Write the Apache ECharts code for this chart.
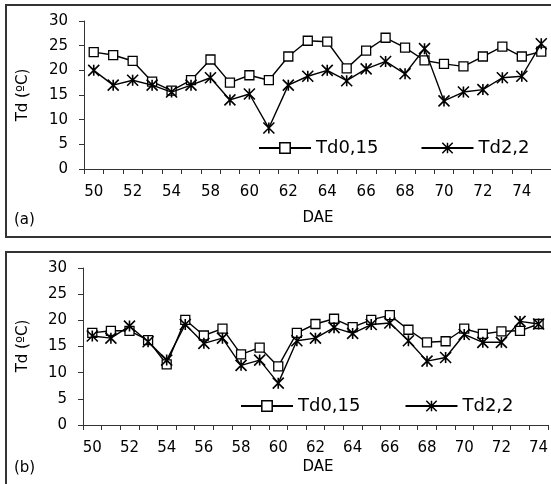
<!DOCTYPE html>
<html>
<head>
<meta charset="utf-8">
<script src="https://cdn.jsdelivr.net/npm/echarts@6/dist/echarts.min.js"></script>
<style>
html,body{margin:0;padding:0;background:#fff;}
#c{width:551px;height:484px;}
</style>
</head>
<body>
<div id="c"></div>
<script>
// Panel (a)
const catsA = ['50','51','52','53','54','55','58','59','60','61','62','63','64','65','66','67','68','69','70','71','72','73','74','75'];
const td015A = [23.7, 23.1, 21.9, 17.7, 15.9, 18.0, 22.2, 17.5, 19.0, 18.0, 22.8, 26.0, 25.8, 20.4, 24.0, 26.6, 24.6, 22.0, 21.3, 20.8, 22.8, 24.8, 22.8, 23.8];
const td22A  = [20.0, 17.0, 18.0, 17.0, 15.6, 17.0, 18.5, 14.0, 15.2, 8.3, 17.0, 18.8, 20.0, 17.9, 20.3, 21.8, 19.3, 24.4, 13.8, 15.6, 16.1, 18.5, 18.8, 25.4];
// Panel (b)
const catsB = ['50','51','52','53','54','55','56','57','58','59','60','61','62','63','64','65','66','67','68','69','70','71','72','73','74'];
const td015B = [17.6, 18.0, 18.0, 16.2, 11.6, 20.1, 17.1, 18.4, 13.5, 14.8, 11.2, 17.6, 19.3, 20.3, 18.7, 20.1, 21.0, 18.2, 15.8, 16.0, 18.4, 17.4, 17.9, 18.0, 19.3];
const td22B  = [17.0, 16.6, 18.9, 15.9, 12.4, 19.2, 15.6, 16.6, 11.4, 12.4, 8.0, 16.1, 16.6, 18.6, 17.5, 19.2, 19.5, 16.1, 12.2, 12.9, 17.3, 15.8, 15.8, 19.8, 19.3];
const yTicks = [0, 5, 10, 15, 20, 25, 30];
const seriesNames = ['Td0,15', 'Td2,2'];
const yTitle = 'Td (ºC)';
const xTitle = 'DAE';

const FONT = 'DejaVu Sans';
const starPath = 'path://M0,0L10,10M0,10L10,0M5,0L5,10';

function xAxis(gi, cats) {
  return {
    type: 'category', gridIndex: gi, data: cats, boundaryGap: true,
    axisLine: {lineStyle: {color: '#333', width: 1}},
    axisTick: {show: true, interval: 0, length: 5, lineStyle: {color: '#333'}},
    axisLabel: {interval: 1, color: '#000', fontFamily: FONT, fontSize: 15, margin: 16},
    splitLine: {show: false}
  };
}
function yAxis(gi) {
  return {
    type: 'value', gridIndex: gi, min: yTicks[0], max: yTicks[yTicks.length - 1], interval: yTicks[1] - yTicks[0],
    axisLine: {show: true, lineStyle: {color: '#333', width: 1}},
    axisTick: {show: true, length: 5, lineStyle: {color: '#333'}},
    axisLabel: {color: '#000', fontFamily: FONT, fontSize: 15, margin: 16},
    splitLine: {show: false}
  };
}
function sq(gi, data) {
  return {
    name: seriesNames[0], type: 'line', xAxisIndex: gi, yAxisIndex: gi, data: data,
    symbol: 'rect', symbolSize: 9, showAllSymbol: true,
    lineStyle: {color: '#000', width: 1.4},
    itemStyle: {color: '#fff', borderColor: '#000', borderWidth: 1.3},
    animation: false, z: 3
  };
}
function st(gi, data) {
  return {
    name: seriesNames[1], type: 'line', xAxisIndex: gi, yAxisIndex: gi, data: data,
    symbol: starPath, symbolSize: 11, showAllSymbol: true,
    lineStyle: {color: '#000', width: 1.4},
    itemStyle: {color: '#000', borderColor: '#000', borderWidth: 1.6},
    animation: false, z: 4
  };
}
function legend(left, top, gap) {
  return {
    data: seriesNames, left: left, top: top, orient: 'horizontal', padding: 0,
    itemWidth: 52, itemHeight: 13, itemGap: gap, selectedMode: false,
    itemStyle: {borderWidth: 1.5},
    textStyle: {color: '#000', fontFamily: FONT, fontSize: 18}
  };
}

const chart = echarts.init(document.getElementById('c'), null, {renderer: 'canvas'});
chart.setOption({
  animation: false,
  backgroundColor: '#fff',
  grid: [
    {left: 84, top: 21, width: 468, height: 148},
    {left: 83, top: 268, width: 472, height: 157}
  ],
  xAxis: [xAxis(0, catsA), xAxis(1, catsB)],
  yAxis: [yAxis(0), yAxis(1)],
  legend: [legend(258, 139, 42), legend(240, 397, 44)],
  series: [sq(0, td015A), st(0, td22A), sq(1, td015B), st(1, td22B)],
  graphic: [
    {type: 'rect', shape: {x: 6, y: 5, width: 600, height: 232}, style: {fill: 'none', stroke: '#333', lineWidth: 2}, silent: true},
    {type: 'rect', shape: {x: 6, y: 252, width: 600, height: 300}, style: {fill: 'none', stroke: '#333', lineWidth: 2}, silent: true},
    {type: 'text', x: 23, y: 95, rotation: Math.PI / 2, style: {text: yTitle, fontFamily: FONT, fontSize: 15, fill: '#000', align: 'center', verticalAlign: 'middle'}},
    {type: 'text', x: 23, y: 346, rotation: Math.PI / 2, style: {text: yTitle, fontFamily: FONT, fontSize: 15, fill: '#000', align: 'center', verticalAlign: 'middle'}},
    {type: 'text', x: 318, y: 218, style: {text: xTitle, fontFamily: FONT, fontSize: 15, fill: '#000', align: 'center', verticalAlign: 'middle'}},
    {type: 'text', x: 318, y: 467, style: {text: xTitle, fontFamily: FONT, fontSize: 15, fill: '#000', align: 'center', verticalAlign: 'middle'}},
    {type: 'text', x: 14, y: 220, style: {text: '(a)', fontFamily: FONT, fontSize: 15, fill: '#000', align: 'left', verticalAlign: 'middle'}},
    {type: 'text', x: 14, y: 468, style: {text: '(b)', fontFamily: FONT, fontSize: 15, fill: '#000', align: 'left', verticalAlign: 'middle'}}
  ]
});
</script>
</body>
</html>
